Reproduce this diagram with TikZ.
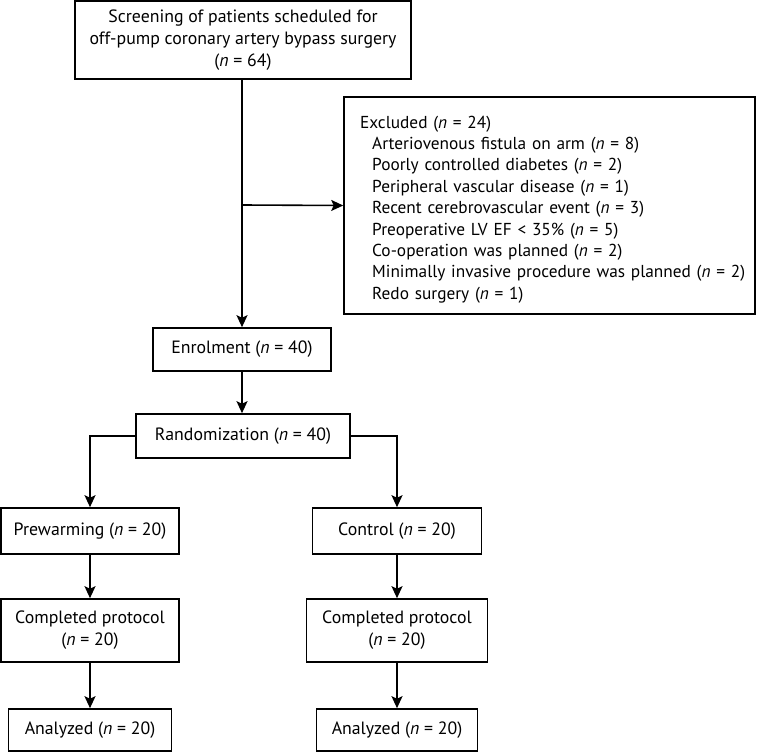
\documentclass[tikz,border=0pt]{standalone}
\usepackage{fontspec}
\setmainfont{PT Sans}
\usetikzlibrary{arrows.meta,positioning}
\begin{document}
\begin{tikzpicture}[x=1pt,y=-1pt,
  box/.style={draw,line width=1.6pt,inner sep=0pt,align=center,font=\fontsize{17.8}{22}\selectfont},
  conn/.style={line width=1.6pt,-{Stealth[length=12pt,width=11pt,inset=2.5pt]}}]
\useasboundingbox (0,0) rectangle (758,752);
\node[box,minimum width=336pt,minimum height=78pt] (screen) at (243,40)
  {Screening of patients scheduled for\\off-pump coronary artery bypass surgery\\(\textit{n} = 64)};
\node[box,minimum width=411pt,minimum height=217pt] (excl) at (549.5,205.5) {};
\node[inner sep=0pt,text width=394pt,align=left,anchor=west,
  font=\fontsize{17.3}{21.4}\selectfont] (excltext) at (360,209.5)
  {Excluded (\textit{n} = 24)\\
  \hspace*{12pt}Arteriovenous fistula on arm (\textit{n} = 8)\\
  \hspace*{12pt}Poorly controlled diabetes (\textit{n} = 2)\\
  \hspace*{12pt}Peripheral vascular disease (\textit{n} = 1)\\
  \hspace*{12pt}Recent cerebrovascular event (\textit{n} = 3)\\
  \hspace*{12pt}Preoperative LV EF < 35\% (\textit{n} = 5)\\
  \hspace*{12pt}Co-operation was planned (\textit{n} = 2)\\
  \hspace*{12pt}Minimally invasive procedure was planned (\textit{n} = 2)\\
  \hspace*{12pt}Redo surgery (\textit{n} = 1)};
\node[box,minimum width=178pt,minimum height=43pt] (enrol) at (242,349.5) {Enrolment (\textit{n} = 40)};
\node[box,minimum width=214pt,minimum height=44pt] (rand) at (243,436) {Randomization (\textit{n} = 40)};
\node[box,minimum width=178pt,minimum height=46pt] (prew) at (90,531) {Prewarming (\textit{n} = 20)};
\node[box,minimum width=169pt,minimum height=46pt] (ctrl) at (397,531) {Control (\textit{n} = 20)};
\node[box,minimum width=178pt,minimum height=63pt] (compL) at (90,630.5) {Completed protocol\\(\textit{n} = 20)};
\node[box,minimum width=181pt,minimum height=63pt] (compR) at (397,630.5) {Completed protocol\\(\textit{n} = 20)};
\node[box,minimum width=163pt,minimum height=42pt] (anaL) at (90,730) {Analyzed (\textit{n} = 20)};
\node[box,minimum width=161pt,minimum height=42pt] (anaR) at (397,730) {Analyzed (\textit{n} = 20)};
\coordinate (br) at (242,205);
\draw[conn] (screen.south -| br) -- (enrol.north -| br);
\draw[conn] (br) -- (excl.west);
\draw[conn] (enrol.south) -- (enrol.south |- rand.north);
\draw[conn] (rand.west) -| (prew.north);
\draw[conn] (rand.east) -| (ctrl.north);
\draw[conn] (prew) -- (compL);
\draw[conn] (ctrl) -- (compR);
\draw[conn] (compL) -- (anaL);
\draw[conn] (compR) -- (anaR);
\end{tikzpicture}
\end{document}
